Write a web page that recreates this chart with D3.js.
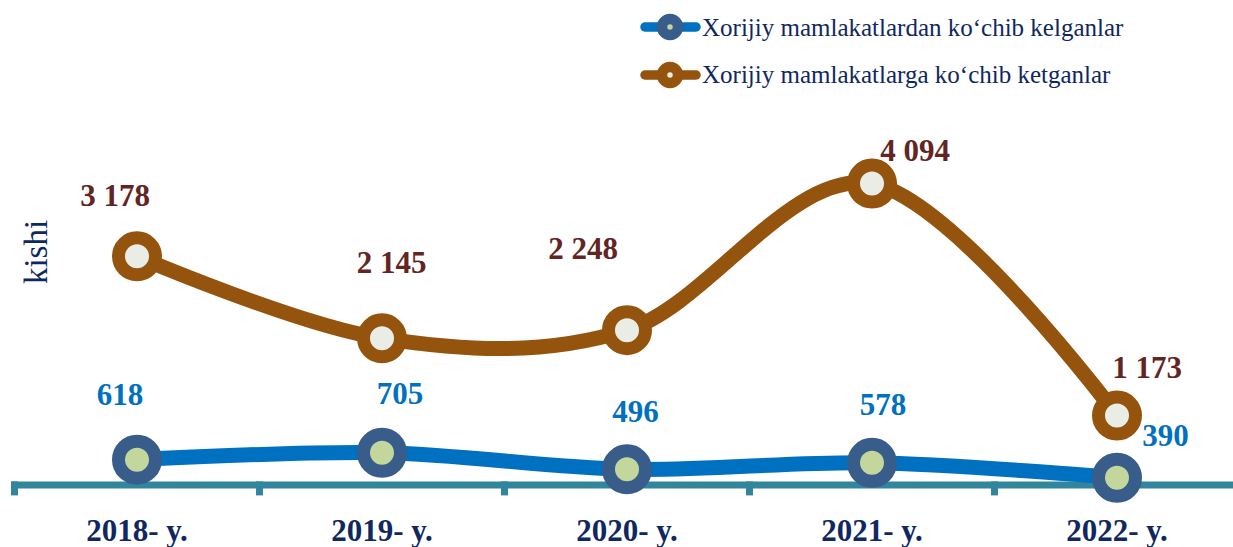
<!DOCTYPE html>
<html>
<head>
<meta charset="utf-8">
<script src="https://cdn.jsdelivr.net/npm/d3@7/dist/d3.min.js"></script>
<style>
  html, body { margin: 0; padding: 0; background: #ffffff; }
  svg { display: block; }
  text { font-family: "Liberation Serif", "Times New Roman", serif; }
</style>
</head>
<body>
<svg id="chart" width="1233" height="547"></svg>
<script>
// Years on the horizontal axis
const years = ["2018- y.", "2019- y.", "2020- y.", "2021- y.", "2022- y."];
// People arriving from foreign countries
const arrived = [618, 705, 496, 578, 390];
// People leaving for foreign countries
const departed = [3178, 2145, 2248, 4094, 1173];
// Series names for the legend
const seriesNames = [
  "Xorijiy mamlakatlardan ko\u2018chib kelganlar",
  "Xorijiy mamlakatlarga ko\u2018chib ketganlar"
];
const unitLabel = "kishi";

const fmt = v => d3.format(",")(v).replace(/,/g, " ");

const svg = d3.select("#chart");

const C = {
  brown: "#95540D",
  brownFill: "#EAEDE6",
  brownText: "#632523",
  blue: "#0070C0",
  blueRing: "#385D8A",
  blueFill: "#C3D69B",
  blueText: "#0070C0",
  axis: "#31859C",
  navy: "#10275F"
};

const x = d3.scaleBand().domain(years).range([14.5, 1239.5]).padding(0);
const y = d3.scaleLinear().domain([300, 5000]).range([484.9, 111.6]);
const cx = d => x(d) + x.bandwidth() / 2;

// Category axis: baseline, tick marks between categories, labels
const axisY = y(300);
svg.append("line")
  .attr("x1", 11).attr("x2", 1233)
  .attr("y1", axisY).attr("y2", axisY)
  .attr("stroke", C.axis).attr("stroke-width", 7);

const tickXs = years.map(d => x(d)).concat([x(years[years.length - 1]) + x.bandwidth()]);
svg.selectAll(".tick").data(tickXs).join("line")
  .attr("class", "tick")
  .attr("x1", d => d).attr("x2", d => d)
  .attr("y1", axisY - 3.5).attr("y2", axisY + 10.5)
  .attr("stroke", C.axis).attr("stroke-width", 7);

svg.selectAll(".cat").data(years).join("text")
  .attr("class", "cat")
  .attr("x", d => cx(d)).attr("y", 541)
  .attr("text-anchor", "middle")
  .attr("font-size", 31).attr("font-weight", "bold")
  .attr("fill", C.navy)
  .text(d => d);

// Unit label
svg.append("text")
  .attr("transform", "translate(47,252) rotate(-90)")
  .attr("text-anchor", "middle")
  .attr("font-size", 33)
  .attr("fill", C.navy)
  .text(unitLabel);

const line = d3.line()
  .x((d, i) => cx(years[i]))
  .y(d => y(d))
  .curve(d3.curveCardinal.tension(0));

function drawSeries(values, lineColor, ring, fill) {
  svg.append("path")
    .datum(values)
    .attr("d", line)
    .attr("fill", "none")
    .attr("stroke", lineColor)
    .attr("stroke-width", 15)
    .attr("stroke-linejoin", "round");
  svg.append("g").selectAll("circle").data(values).join("circle")
    .attr("cx", (d, i) => cx(years[i]))
    .attr("cy", d => y(d))
    .attr("r", 18.5)
    .attr("fill", fill)
    .attr("stroke", ring)
    .attr("stroke-width", 13);
}

drawSeries(departed, C.brown, C.brown, C.brownFill);
drawSeries(arrived, C.blue, C.blueRing, C.blueFill);

// Data labels, each nudged off its marker
const departedNudge = [[-22, -50], [9.5, -65], [-44, -71], [43, -23], [30, -37.5]];
const arrivedNudge = [[-17, -55], [18, -49], [8.5, -47], [11, -48], [48.5, -32]];

function drawLabels(values, nudge, color) {
  svg.append("g").selectAll("text").data(values).join("text")
    .attr("x", (d, i) => cx(years[i]) + nudge[i][0])
    .attr("y", (d, i) => y(d) + nudge[i][1])
    .attr("text-anchor", "middle")
    .attr("font-size", 31).attr("font-weight", "bold")
    .attr("fill", color)
    .text(d => fmt(d));
}
drawLabels(departed, departedNudge, C.brownText);
drawLabels(arrived, arrivedNudge, C.blueText);

// Legend
const legend = [
  { name: seriesNames[0], line: C.blue, ring: C.blueRing, dot: C.blueFill, y: 27, base: 35.5 },
  { name: seriesNames[1], line: C.brown, ring: C.brown, dot: C.brownFill, y: 75, base: 83 }
];
const lg = svg.append("g").selectAll("g").data(legend).join("g");
lg.append("line")
  .attr("x1", 645).attr("x2", 696)
  .attr("y1", d => d.y).attr("y2", d => d.y)
  .attr("stroke", d => d.line).attr("stroke-width", 9.5)
  .attr("stroke-linecap", "round");
lg.append("circle")
  .attr("cx", 670).attr("cy", d => d.y)
  .attr("r", 8)
  .attr("fill", d => d.dot)
  .attr("stroke", d => d.ring).attr("stroke-width", 10.5);
lg.append("text")
  .attr("x", 702).attr("y", d => d.base)
  .attr("font-size", 25)
  .attr("fill", C.navy)
  .text(d => d.name);
</script>
</body>
</html>
